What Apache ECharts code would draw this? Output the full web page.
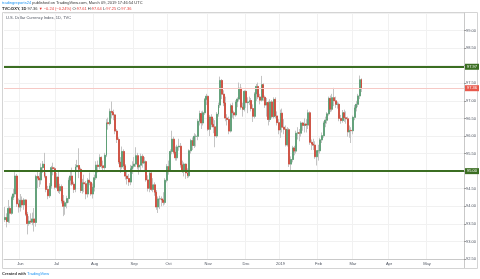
<!DOCTYPE html>
<html>
<head>
<meta charset="utf-8">
<script src="https://cdn.jsdelivr.net/npm/echarts@6/dist/echarts.min.js"></script>
<style>
  html, body { margin: 0; padding: 0; background: #fff; }
  #chart { width: 480px; height: 279px; }
</style>
</head>
<body>
<div id="chart"></div>
<script>
// TVC:DXY daily, 2018-05-21 .. 2019-03-08 (one row per month in each array)
const open = [
  93.62, 93.68, 93.57, 93.94, 93.80, 94.25, 94.35, 94.86, 94.07,
  93.98, 94.17, 94.04, 94.18, 93.77, 93.51, 93.58, 93.55, 93.64, 93.54, 94.85, 94.80, 94.75, 95.10, 95.20, 94.85, 94.48, 94.30, 94.58, 95.10, 95.07,
  94.54, 94.83, 94.44, 94.56, 94.15, 94.00, 94.10, 94.22, 94.74, 94.86, 94.63, 94.48, 95.12, 95.16, 95.05, 94.45, 94.67, 94.64, 94.35, 94.74, 94.68, 94.35,
  94.54, 94.81, 95.17, 95.13, 95.39, 95.15, 95.10, 95.45, 96.38, 96.35, 96.70, 96.67, 96.60, 96.14, 95.90, 95.26, 95.12, 95.56, 95.15, 94.86, 94.79, 94.69, 95.07,
  95.14, 95.20, 95.44, 95.12, 95.17, 95.42, 95.23, 95.27, 94.75, 94.51, 94.94, 94.48, 94.61, 94.40, 93.98, 94.21, 94.21, 94.18, 94.11, 94.74,
  95.13, 95.02, 95.56, 95.91, 95.54, 95.38, 95.69, 95.71, 95.18, 94.99, 95.20, 94.95, 94.87, 95.58, 95.87, 95.73, 95.99, 95.99, 96.42, 96.64, 96.37, 96.66, 97.04,
  97.13, 96.19, 96.54, 96.33, 96.26, 96.00, 96.62, 96.88, 97.58, 97.19, 96.94, 96.51, 96.47, 96.14, 96.86, 96.66, 96.60, 96.97, 97.05, 97.36, 96.82, 96.76,
  97.27, 96.95, 96.97, 97.01, 96.78, 96.56, 97.20, 97.41, 97.11, 97.02, 97.46, 97.10, 96.88, 96.95, 96.47, 96.97, 96.55, 97.04, 96.57, 96.38,
  96.17, 96.65, 96.25, 96.19, 95.75, 96.18, 95.20, 95.33, 95.66, 95.57, 96.08, 96.09, 96.08, 96.37, 96.30, 96.34, 96.31, 96.66, 95.82, 95.77, 95.74, 95.41,
  95.58, 95.58, 95.89, 96.01, 96.37, 96.45, 96.63, 97.07, 96.76, 97.09, 97.00, 96.90, 96.90, 96.50, 96.44, 96.66, 96.52, 96.49, 96.12, 96.16,
  96.15, 96.53, 96.80, 96.90, 97.14, 97.61
];
const high = [
  93.98, 93.80, 94.18, 94.00, 94.30, 94.50, 94.97, 94.92, 94.22,
  94.35, 94.28, 94.23, 94.20, 93.84, 93.72, 93.80, 93.82, 93.95, 94.90, 95.02, 94.96, 95.22, 95.29, 95.52, 94.96, 94.58, 94.66, 95.15, 95.24, 95.12,
  94.95, 95.00, 94.64, 94.62, 94.32, 94.16, 94.30, 94.82, 94.98, 95.10, 94.70, 95.20, 95.32, 95.65, 95.10, 94.78, 94.90, 94.72, 94.80, 94.96, 94.72, 94.65,
  94.90, 95.28, 95.30, 95.48, 95.42, 95.30, 95.52, 96.48, 96.52, 96.78, 96.98, 96.75, 96.62, 96.20, 95.96, 95.40, 95.70, 95.62, 95.20, 94.98, 94.92, 95.18, 95.28,
  95.40, 95.68, 95.52, 95.30, 95.50, 95.48, 95.40, 95.30, 94.88, 95.02, 94.98, 94.80, 94.68, 94.46, 94.28, 94.30, 94.28, 94.40, 94.80, 95.20,
  95.30, 95.62, 96.15, 95.98, 95.70, 95.75, 95.92, 95.80, 95.30, 95.25, 95.22, 95.08, 95.62, 95.92, 95.96, 96.08, 96.05, 96.48, 96.72, 96.70, 96.72, 97.08, 97.20,
  97.15, 96.60, 96.62, 96.50, 96.45, 96.68, 96.95, 97.69, 97.62, 97.30, 97.12, 96.62, 96.55, 96.92, 96.95, 96.72, 97.02, 97.10, 97.52, 97.48, 96.95, 97.30,
  97.30, 97.10, 97.12, 97.08, 96.90, 97.25, 97.48, 97.52, 97.20, 97.71, 97.50, 97.15, 97.08, 97.00, 97.05, 97.02, 97.10, 97.10, 96.70, 96.48,
  96.75, 96.78, 96.48, 96.30, 96.25, 96.22, 95.42, 95.72, 95.72, 96.15, 96.25, 96.20, 96.42, 96.40, 96.50, 96.48, 96.75, 96.70, 95.90, 95.92, 95.85, 95.60,
  95.75, 95.95, 96.10, 96.42, 96.55, 96.68, 97.12, 97.15, 97.20, 97.37, 97.12, 96.98, 96.95, 96.60, 96.74, 96.75, 96.70, 96.55, 96.30, 96.25,
  96.58, 96.88, 97.00, 97.20, 97.72, 97.64
];
const low = [
  93.55, 93.40, 93.52, 93.52, 93.76, 94.18, 94.26, 93.98, 93.82,
  93.85, 93.96, 93.90, 93.72, 93.20, 93.45, 93.50, 93.46, 93.28, 93.42, 94.52, 94.55, 94.62, 94.95, 94.80, 94.40, 94.20, 94.24, 94.50, 94.88, 94.48,
  94.50, 94.38, 94.35, 94.08, 93.72, 93.76, 93.94, 94.10, 94.60, 94.58, 94.38, 94.40, 95.00, 94.80, 94.38, 94.36, 94.40, 94.20, 94.25, 94.60, 94.30, 94.22,
  94.42, 94.75, 94.96, 95.05, 95.08, 95.02, 95.04, 95.40, 96.18, 96.30, 96.50, 96.45, 96.05, 95.80, 95.20, 94.95, 95.05, 95.05, 94.76, 94.62, 94.58, 94.60, 94.92,
  95.08, 95.12, 95.05, 94.90, 95.02, 95.10, 95.00, 94.70, 94.42, 94.40, 94.44, 94.40, 94.30, 93.90, 93.81, 93.92, 94.00, 94.02, 94.05, 94.68,
  94.90, 94.98, 95.48, 95.48, 95.30, 95.30, 95.58, 95.10, 94.95, 94.85, 94.78, 94.80, 94.82, 95.50, 95.60, 95.66, 95.70, 95.88, 96.30, 96.20, 96.30, 96.60, 96.88,
  96.14, 96.00, 96.25, 96.08, 95.68, 95.95, 96.55, 96.80, 97.05, 96.85, 96.42, 96.30, 96.05, 96.10, 96.52, 96.48, 96.55, 96.82, 96.98, 96.75, 96.55, 96.70,
  96.80, 96.65, 96.88, 96.70, 96.40, 96.50, 97.00, 97.05, 96.90, 96.98, 97.00, 96.80, 96.55, 96.30, 96.40, 96.50, 96.50, 96.50, 96.30, 96.05,
  95.95, 96.10, 96.05, 95.70, 95.70, 95.12, 95.03, 95.25, 95.45, 95.50, 95.90, 95.85, 95.98, 96.15, 96.10, 96.10, 96.20, 95.75, 95.60, 95.60, 95.35, 95.16,
  95.30, 95.50, 95.80, 95.95, 96.25, 96.35, 96.58, 96.68, 96.70, 96.85, 96.80, 96.78, 96.42, 96.35, 96.38, 96.40, 96.35, 95.98, 95.95, 95.80,
  96.05, 96.45, 96.70, 96.82, 97.05, 97.25
];
const close = [
  93.68, 93.57, 93.94, 93.80, 94.25, 94.35, 94.86, 94.07, 93.98,
  94.17, 94.04, 94.18, 93.77, 93.51, 93.58, 93.55, 93.64, 93.54, 94.85, 94.80, 94.75, 95.10, 95.20, 94.85, 94.48, 94.30, 94.58, 95.10, 95.07, 94.54,
  94.83, 94.44, 94.56, 94.15, 94.00, 94.10, 94.22, 94.74, 94.86, 94.63, 94.48, 95.12, 95.16, 95.05, 94.45, 94.67, 94.64, 94.35, 94.74, 94.68, 94.35, 94.54,
  94.81, 95.17, 95.13, 95.39, 95.15, 95.10, 95.45, 96.38, 96.35, 96.70, 96.67, 96.60, 96.14, 95.90, 95.26, 95.12, 95.56, 95.15, 94.86, 94.79, 94.69, 95.07, 95.14,
  95.20, 95.44, 95.12, 95.17, 95.42, 95.23, 95.27, 94.75, 94.51, 94.94, 94.48, 94.61, 94.40, 93.98, 94.21, 94.21, 94.18, 94.11, 94.74, 95.13,
  95.02, 95.56, 95.91, 95.54, 95.38, 95.69, 95.71, 95.18, 94.99, 95.20, 94.95, 94.87, 95.58, 95.87, 95.73, 95.99, 95.99, 96.42, 96.64, 96.37, 96.66, 97.04, 97.13,
  96.19, 96.54, 96.33, 96.26, 96.00, 96.62, 96.88, 97.58, 97.19, 96.94, 96.51, 96.47, 96.14, 96.86, 96.66, 96.60, 96.97, 97.05, 97.36, 96.82, 96.76, 97.27,
  96.95, 96.97, 97.01, 96.78, 96.56, 97.20, 97.41, 97.11, 97.02, 97.46, 97.10, 96.88, 96.95, 96.47, 96.97, 96.55, 97.04, 96.57, 96.38, 96.17,
  96.65, 96.25, 96.19, 95.75, 96.18, 95.20, 95.33, 95.66, 95.57, 96.08, 96.09, 96.08, 96.37, 96.30, 96.34, 96.31, 96.66, 95.82, 95.77, 95.74, 95.41, 95.58,
  95.58, 95.89, 96.01, 96.37, 96.45, 96.63, 97.07, 96.76, 97.09, 97.00, 96.90, 96.90, 96.50, 96.44, 96.66, 96.52, 96.49, 96.12, 96.16, 96.15,
  96.53, 96.80, 96.90, 97.14, 97.60, 97.36
];

// horizontal levels drawn on the chart
const resistance = 97.97;
const support = 95.00;
const lastPrice = 97.36;

const monthNames = ['Jan', 'Feb', 'Mar', 'Apr', 'May', 'Jun', 'Jul', 'Aug', 'Sep', 'Oct', 'Nov', 'Dec'];
const holidays = ['2018-12-25', '2019-01-01'];

// trading-day slots, including empty future ones on the right
const dates = [];
const d = new Date(Date.UTC(2018, 4, 21));
while (dates.length < 267) {
  const s = d.toISOString().slice(0, 10);
  const wd = d.getUTCDay();
  if (wd !== 0 && wd !== 6 && holidays.indexOf(s) < 0) dates.push(s);
  d.setUTCDate(d.getUTCDate() + 1);
}

const wicks = open.map((o, i) => [o, close[i], low[i], high[i]]);
const bodies = open.map((o, i) => [o, close[i], Math.min(o, close[i]), Math.max(o, close[i])]);

const monthStart = (index, value) => index > 0 && value.slice(0, 7) !== dates[index - 1].slice(0, 7);

const upColor = '#5a9e74';
const downColor = '#d04a3a';
const wickColor = '#c4c4c4';
const lineGreen = '#3b6e22';
const gridColor = '#f1f1f1';
const textColor = '#4c525e';
const font = 'Liberation Sans, Arial, sans-serif';

const chart = echarts.init(document.getElementById('chart'), null, { renderer: 'canvas' });

function levelLine(value, color, width, bg) {
  return {
    yAxis: value,
    lineStyle: { color: color, width: width, type: 'solid' },
    label: {
      show: true,
      position: 'end',
      formatter: value.toFixed(2),
      color: '#fff',
      backgroundColor: bg,
      fontSize: 4,
      fontFamily: font,
      padding: [1, 2, 1, 2],
      distance: 1
    }
  };
}

chart.setOption({
  animation: false,
  backgroundColor: '#fff',
  textStyle: { fontFamily: font },
  grid: { left: 4, right: 16, top: 13, bottom: 20 },
  xAxis: {
    type: 'category',
    data: dates,
    boundaryGap: true,
    axisLine: { lineStyle: { color: '#c9c9c9' } },
    axisTick: { alignWithLabel: true, interval: monthStart, length: 2, lineStyle: { color: '#9a9a9a' } },
    axisLabel: {
      interval: monthStart,
      fontSize: 4,
      color: textColor,
      margin: 3,
      formatter: v => {
        const m = +v.slice(5, 7) - 1;
        return m === 0 ? v.slice(0, 4) : monthNames[m];
      }
    },
    splitLine: { show: true, interval: monthStart, lineStyle: { color: gridColor } }
  },
  yAxis: {
    type: 'value',
    position: 'right',
    min: 92.5,
    max: 99.5,
    interval: 0.5,
    axisLine: { show: true, lineStyle: { color: '#c9c9c9' } },
    axisTick: { show: true, length: 2, lineStyle: { color: '#9a9a9a' } },
    axisLabel: {
      fontSize: 4,
      color: textColor,
      margin: 2,
      showMaxLabel: false,
      formatter: v => v.toFixed(2)
    },
    splitLine: { lineStyle: { color: gridColor } }
  },
  series: [
    {
      type: 'candlestick',
      data: wicks,
      barWidth: '85%',
      silent: true,
      itemStyle: { color: wickColor, color0: wickColor, borderColor: wickColor, borderColor0: wickColor, borderWidth: 1 }
    },
    {
      type: 'candlestick',
      data: bodies,
      barWidth: '85%',
      silent: true,
      itemStyle: { color: upColor, color0: downColor, borderColor: upColor, borderColor0: downColor, borderWidth: 0.8 },
      markLine: {
        symbol: 'none',
        silent: true,
        animation: false,
        data: [
          levelLine(lastPrice, '#f6c9c5', 1, '#e8594c'),
          levelLine(resistance, lineGreen, 2, lineGreen),
          levelLine(support, lineGreen, 2, lineGreen)
        ]
      }
    }
  ],
  graphic: [
    // chart frame and price axis column
    { type: 'rect', shape: { x: 2.5, y: 12.5, width: 475, height: 256 }, style: { fill: 'none', stroke: '#d4d4d4', lineWidth: 1 }, silent: true },
    { type: 'line', shape: { x1: 464.5, y1: 259, x2: 464.5, y2: 268 }, style: { stroke: '#c9c9c9', lineWidth: 1 }, silent: true },
    { type: 'rect', shape: { x: 465, y: 259.5, width: 12, height: 8 }, style: { fill: '#fff' }, silent: true },
    {
      type: 'text', left: 2, top: 1, silent: true,
      style: {
        text: '{u|tradingreports24} {t|published on TradingView.com, March 09, 2019 17:46:54 UTC}',
        font: '4px ' + font,
        rich: { u: { fill: '#2196f3', fontSize: 4 }, t: { fill: '#333', fontSize: 4 } }
      }
    },
    {
      type: 'text', left: 2, top: 6.5, silent: true,
      style: {
        text: '{b|TVC:DXY, 1D} {k|97.36} {r|\u25BC −0.24 (−0.24%)} {k|O:}{r|97.61} {k|H:}{r|97.64} {k|L:}{r|97.25} {k|C:}{r|97.36}',
        font: '4px ' + font,
        rich: {
          b: { fill: '#222', fontSize: 4, fontWeight: 'bold' },
          k: { fill: '#333', fontSize: 4 },
          r: { fill: '#e53935', fontSize: 4 }
        }
      }
    },
    {
      type: 'text', left: 6, top: 16, silent: true,
      style: { text: 'U.S. Dollar Currency Index, 1D, TVC', fill: textColor, font: '4px ' + font }
    },
    {
      type: 'text', left: 2, top: 272, silent: true,
      style: {
        text: '{c|Created with} {t|TradingView}',
        font: '4px ' + font,
        rich: { c: { fill: '#333', fontSize: 4, fontWeight: 'bold' }, t: { fill: '#2196f3', fontSize: 4 } }
      }
    }
  ]
});
</script>
</body>
</html>
